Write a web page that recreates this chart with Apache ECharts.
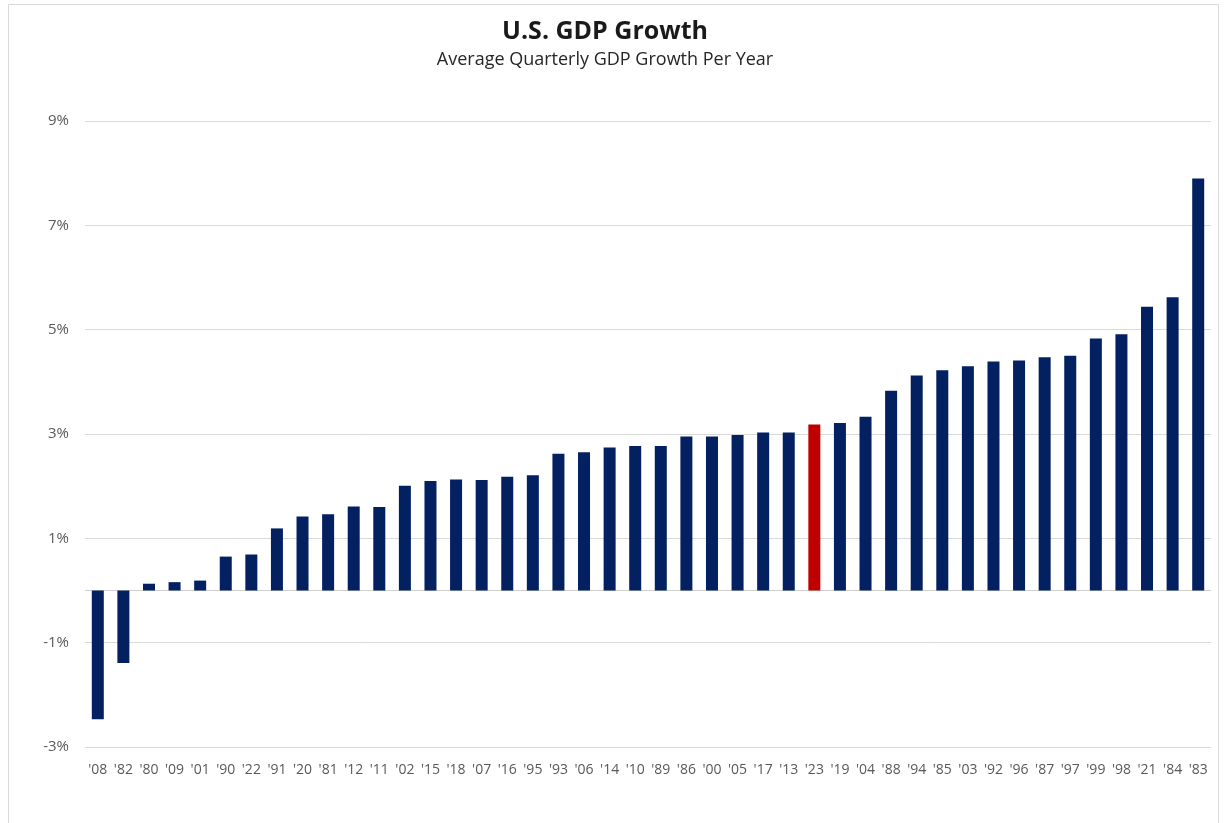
<!doctype html>
<html>
    <head>
        <meta charset="utf-8">
        <title>U.S. GDP Growth</title>
        <style>
            html, body { margin: 0; padding: 0; background: #fff; }
            #main { width: 1225px; height: 823px; }
        </style>
    </head>
    <body>
        <div id="main"></div>
        <script src="https://cdn.jsdelivr.net/npm/echarts@6/dist/echarts.min.js"></script>
        <script>
            // years, sorted by growth
            var years = ["'08", "'82", "'80", "'09", "'01", "'90", "'22", "'91", "'20", "'81",
                "'12", "'11", "'02", "'15", "'18", "'07", "'16", "'95", "'93", "'06",
                "'14", "'10", "'89", "'86", "'00", "'05", "'17", "'13", "'23", "'19",
                "'04", "'88", "'94", "'85", "'03", "'92", "'96", "'87", "'97", "'99",
                "'98", "'21", "'84", "'83"];
            // average quarterly GDP growth, %
            var growth = [-2.47, -1.39, 0.13, 0.16, 0.19, 0.65, 0.69, 1.19, 1.42, 1.46,
                1.61, 1.60, 2.01, 2.10, 2.13, 2.12, 2.18, 2.21, 2.62, 2.65,
                2.74, 2.77, 2.77, 2.95, 2.95, 2.98, 3.03, 3.03, 3.18, 3.21,
                3.33, 3.83, 4.12, 4.22, 4.30, 4.39, 4.41, 4.47, 4.50, 4.83,
                4.91, 5.44, 5.62, 7.90];
            var highlight = "'23";
            var gridValues = [-3, -1, 1, 3, 5, 7, 9];

            var navy = '#032060';
            var red = '#c00000';

            var chart = echarts.init(document.getElementById('main'));

            var barData = growth.map(function (v, i) {
                return {
                    value: v,
                    itemStyle: { color: years[i] === highlight ? red : navy }
                };
            });

            var lines = gridValues.map(function (v) {
                return { yAxis: v };
            });
            lines.push({ yAxis: 0, lineStyle: { color: '#cfcfcf' } });

            chart.setOption({
                animation: false,
                title: {
                    text: 'U.S. GDP Growth',
                    subtext: 'Average Quarterly GDP Growth Per Year',
                    left: 600,
                    textAlign: 'center',
                    top: 14,
                    itemGap: 7,
                    textStyle: {
                        fontFamily: 'Open Sans',
                        fontWeight: 'bold',
                        fontSize: 25,
                        color: '#1a1a1a'
                    },
                    subtextStyle: {
                        fontFamily: 'Open Sans',
                        fontSize: 18,
                        color: '#262626'
                    }
                },
                graphic: [{
                    type: 'rect',
                    shape: { x: 8.5, y: 4.5, width: 1210, height: 830 },
                    style: { fill: 'none', stroke: '#d9d9d9', lineWidth: 1 },
                    silent: true
                }],
                grid: {
                    left: 85,
                    right: 14,
                    top: 121,
                    bottom: 76
                },
                xAxis: {
                    type: 'category',
                    data: years,
                    axisLine: { show: false, onZero: false },
                    axisTick: { show: false },
                    axisLabel: {
                        interval: 0,
                        margin: 16,
                        fontFamily: 'Open Sans',
                        fontSize: 14,
                        color: '#595959'
                    }
                },
                yAxis: {
                    type: 'value',
                    min: -3,
                    max: 9,
                    interval: 1,
                    splitLine: { show: false },
                    axisLine: { show: false },
                    axisTick: { show: false },
                    axisLabel: {
                        margin: 16,
                        fontFamily: 'Open Sans',
                        fontSize: 15,
                        color: '#595959',
                        formatter: function (v) {
                            return Math.abs(v % 2) === 1 ? v + '%' : '';
                        }
                    }
                },
                series: [{
                    type: 'bar',
                    data: barData,
                    barWidth: 12,
                    z: 3,
                    markLine: {
                        silent: true,
                        symbol: 'none',
                        label: { show: false },
                        lineStyle: { color: '#d9d9d9', type: 'solid', width: 1 },
                        z: 1,
                        data: lines
                    }
                }]
            });

            window.onresize = chart.resize;
        </script>
    </body>
</html>
